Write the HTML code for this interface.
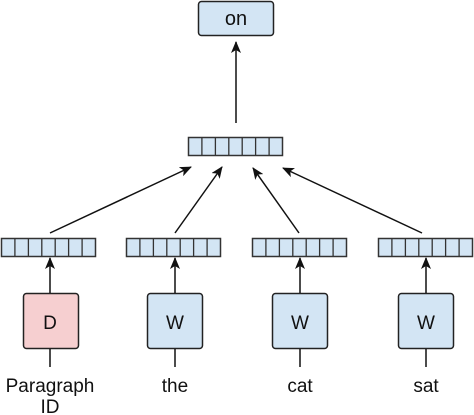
<!DOCTYPE html>
<html><head><meta charset="utf-8"><style>
html,body{margin:0;padding:0;background:#fff;}
svg{display:block;}
text{font-family:"Liberation Sans",Arial,sans-serif;fill:#111;}
</style></head><body>
<svg width="474" height="415" viewBox="0 0 474 415" xmlns="http://www.w3.org/2000/svg">
<defs>
<marker id="a" viewBox="0 0 12 10" refX="11" refY="5" markerWidth="12" markerHeight="10" markerUnits="userSpaceOnUse" orient="auto">
<path d="M0,0 L12,5 L0,10 L3,5 Z" fill="#111"/>
</marker>
<g id="vec">
<rect x="0" y="0" width="94" height="18" fill="#d3e5f4" stroke="#333" stroke-width="1.5"/>
<line x1="13.4" y1="0" x2="13.4" y2="18" stroke="#333" stroke-width="1.3"/>
<line x1="26.9" y1="0" x2="26.9" y2="18" stroke="#333" stroke-width="1.3"/>
<line x1="40.3" y1="0" x2="40.3" y2="18" stroke="#333" stroke-width="1.3"/>
<line x1="53.7" y1="0" x2="53.7" y2="18" stroke="#333" stroke-width="1.3"/>
<line x1="67.1" y1="0" x2="67.1" y2="18" stroke="#333" stroke-width="1.3"/>
<line x1="80.6" y1="0" x2="80.6" y2="18" stroke="#333" stroke-width="1.3"/>
</g>
</defs>
<rect x="198.5" y="1.5" width="75" height="34" rx="3" fill="#d3e5f4" stroke="#222" stroke-width="1.5"/>
<text x="236" y="25" style="font-size:20px" text-anchor="middle">on</text>
<line x1="236" y1="123" x2="236" y2="42" stroke="#111" stroke-width="1.5" marker-end="url(#a)"/>
<use href="#vec" x="188.5" y="137.5"/>
<use href="#vec" x="1.5" y="238.5"/>
<use href="#vec" x="126.5" y="238.5"/>
<use href="#vec" x="252.5" y="238.5"/>
<use href="#vec" x="378.5" y="238.5"/>
<line x1="50" y1="233" x2="191" y2="167" stroke="#111" stroke-width="1.5" marker-end="url(#a)"/>
<line x1="175" y1="233" x2="222" y2="167" stroke="#111" stroke-width="1.5" marker-end="url(#a)"/>
<line x1="299" y1="233" x2="253" y2="168" stroke="#111" stroke-width="1.5" marker-end="url(#a)"/>
<line x1="422" y1="233" x2="283" y2="168" stroke="#111" stroke-width="1.5" marker-end="url(#a)"/>
<rect x="23.5" y="293.5" width="55" height="55" rx="3" fill="#f6cfd0" stroke="#222" stroke-width="1.5"/>
<rect x="147.5" y="293.5" width="55" height="55" rx="3" fill="#d3e5f4" stroke="#222" stroke-width="1.5"/>
<rect x="272.5" y="293.5" width="55" height="55" rx="3" fill="#d3e5f4" stroke="#222" stroke-width="1.5"/>
<rect x="398.5" y="293.5" width="55" height="55" rx="3" fill="#d3e5f4" stroke="#222" stroke-width="1.5"/>
<text x="50" y="329" style="font-size:19px" text-anchor="middle">D</text>
<text x="175" y="329" style="font-size:19px" text-anchor="middle">W</text>
<text x="300" y="329" style="font-size:19px" text-anchor="middle">W</text>
<text x="426" y="329" style="font-size:19px" text-anchor="middle">W</text>
<line x1="50" y1="293" x2="50" y2="258" stroke="#111" stroke-width="1.5" marker-end="url(#a)"/>
<line x1="175" y1="293" x2="175" y2="258" stroke="#111" stroke-width="1.5" marker-end="url(#a)"/>
<line x1="300" y1="293" x2="300" y2="258" stroke="#111" stroke-width="1.5" marker-end="url(#a)"/>
<line x1="426" y1="293" x2="426" y2="258" stroke="#111" stroke-width="1.5" marker-end="url(#a)"/>
<line x1="50" y1="349" x2="50" y2="367" stroke="#111" stroke-width="1.5"/>
<line x1="175" y1="349" x2="175" y2="367" stroke="#111" stroke-width="1.5"/>
<line x1="300" y1="349" x2="300" y2="367" stroke="#111" stroke-width="1.5"/>
<line x1="426" y1="349" x2="426" y2="367" stroke="#111" stroke-width="1.5"/>
<text x="50" y="392" style="font-size:19px" text-anchor="middle">Paragraph</text>
<text x="50" y="413" style="font-size:19px" text-anchor="middle">ID</text>
<text x="175" y="392" style="font-size:19px" text-anchor="middle">the</text>
<text x="300" y="392" style="font-size:19px" text-anchor="middle">cat</text>
<text x="426" y="392" style="font-size:19px" text-anchor="middle">sat</text>
</svg>
</body></html>
